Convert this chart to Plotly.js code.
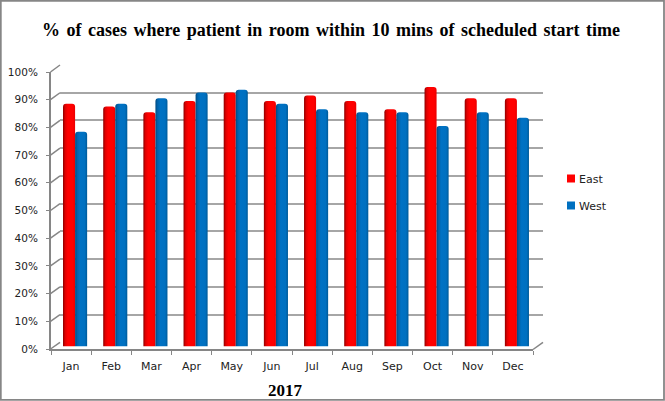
<!DOCTYPE html>
<html><head><meta charset="utf-8">
<script src="https://cdn.plot.ly/plotly-3.0.1.min.js"></script>
<style>html,body{margin:0;padding:0;background:#fff}#c{width:665px;height:401px}</style></head>
<body><div id="c"></div>
<script>
const months = ["Jan","Feb","Mar","Apr","May","Jun","Jul","Aug","Sep","Oct","Nov","Dec"];
const east = [87,86,84,88,91,88,90,88,85,93,89,89];
const west = [77,87,89,91,92,87,85,84,84,79,84,82];
const yTicks = [0,10,20,30,40,50,60,70,80,90,100];
const W=665,H=401;
const gray="#868686";
const px=(a,b)=>[a/W,b/W], py=(top,bot)=>[1-bot/H,1-top/H];
const xr=[-0.5,11.5], yr=[0,100];
const traces=[
 {type:"bar",name:"East",x:months,y:east,xaxis:"x3",yaxis:"y3",marker:{color:"#ff0000"},legendgroup:"a",hoverinfo:"x+y"},
 {type:"bar",name:"West",x:months,y:west,xaxis:"x3",yaxis:"y3",marker:{color:"#0070c0"},legendgroup:"b",hoverinfo:"x+y"},
 {type:"scatter",mode:"markers",x:months,y:east,xaxis:"x",yaxis:"y",marker:{opacity:0},showlegend:false,hoverinfo:"skip"},
 {type:"scatter",mode:"markers",x:months,y:east,xaxis:"x2",yaxis:"y2",marker:{opacity:0},showlegend:false,hoverinfo:"skip"}
];
const shapes=[];
const yFront=v=>349-v*2.77, yBack=v=>342.3-v*2.773;
yTicks.forEach(v=>shapes.push({type:"line",xref:"paper",yref:"paper",x0:50.5/W,x1:60/W,y0:1-yFront(v)/H,y1:1-yBack(v)/H,line:{color:gray,width:1.5},layer:"below"}));
shapes.push({type:"line",xref:"paper",yref:"paper",x0:533/W,x1:543/W,y0:1-349.5/H,y1:1-342.3/H,line:{color:gray,width:1.5},layer:"below"});
shapes.push({type:"rect",xref:"paper",yref:"paper",x0:0.8/W,x1:664/W,y0:1-0.8/H,y1:1-399.8/H,line:{color:gray,width:1.8},layer:"below"});
const layout={
 width:W,height:H,margin:{l:0,r:0,t:0,b:0},paper_bgcolor:"#fff",plot_bgcolor:"rgba(0,0,0,0)",
 barmode:"group",bargap:0.4,bargroupgap:0,barcornerradius:3,
 font:{family:"DejaVu Sans",size:11,color:"#222"},
 title:{text:"% of cases where patient in room within 10 mins of scheduled start time",font:{family:"Liberation Serif",size:18,color:"#000",weight:700},x:331/W,xanchor:"center",y:1-30/H,yanchor:"middle"},
 xaxis:{domain:px(51,533),range:xr,anchor:"y",type:"category",categoryorder:"array",categoryarray:months,tickson:"boundaries",ticks:"outside",ticklen:4,tickcolor:gray,tickwidth:1,ticklabelstandoff:6,showline:true,linecolor:gray,linewidth:2,showgrid:false,zeroline:false,fixedrange:true,
   title:{text:"2017",font:{family:"Liberation Serif",size:17,color:"#000",weight:700},standoff:12}},
 yaxis:{domain:py(72,349),range:yr,anchor:"x",tickvals:yTicks,ticktext:yTicks.map(v=>v+"%"),ticks:"outside",ticklen:3,tickcolor:gray,tickwidth:1,ticklabelstandoff:6,tickfont:{size:10.5},showline:true,linecolor:gray,linewidth:2,showgrid:false,zeroline:false,fixedrange:true},
 xaxis2:{domain:px(60,543),range:xr,anchor:"y2",type:"category",categoryorder:"array",categoryarray:months,visible:false,fixedrange:true},
 yaxis2:{domain:py(65,342.3),range:yr,anchor:"x2",tickvals:yTicks,showticklabels:false,ticks:"",showline:false,showgrid:true,gridcolor:"#a6a6a6",gridwidth:2,zeroline:false,fixedrange:true},
 xaxis3:{domain:px(55,537),range:xr,anchor:"y3",type:"category",categoryorder:"array",categoryarray:months,visible:false,fixedrange:true},
 yaxis3:{domain:py(67.5,346.5),range:yr,anchor:"x3",visible:false,fixedrange:true},
 showlegend:true,
 legend:{x:551/W,y:1-164/H,xanchor:"left",yanchor:"top",tracegroupgap:8,bgcolor:"rgba(0,0,0,0)",font:{family:"DejaVu Sans",size:11,color:"#222"},traceorder:"grouped",itemclick:false,itemdoubleclick:false},
 shapes:shapes
};
Plotly.newPlot("c",traces,layout,{displayModeBar:false,staticPlot:true}).then(gd=>{
  const svg=gd.querySelector("svg.main-svg");
  const defs=svg.querySelector("defs");
  const NS="http://www.w3.org/2000/svg";
  const grad=(id,stops)=>{const g=document.createElementNS(NS,"linearGradient");g.id=id;g.setAttribute("x1","0");g.setAttribute("x2","1");g.setAttribute("y1","0");g.setAttribute("y2","0");
    stops.forEach(s=>{const e=document.createElementNS(NS,"stop");e.setAttribute("offset",s[0]);e.setAttribute("stop-color",s[1]);g.appendChild(e);});defs.appendChild(g);};
  grad("gEast",[[0,"#8c0000"],[0.18,"#e00000"],[0.4,"#ff0000"],[0.8,"#ff0000"],[1,"#e80000"]]);
  grad("gWest",[[0,"#004a80"],[0.18,"#0064ac"],[0.4,"#0072c4"],[0.8,"#0070c0"],[1,"#005a98"]]);
  gd.querySelectorAll(".barlayer .trace").forEach((t,i)=>{
    t.querySelectorAll(".point path").forEach(p=>{p.style.fill="url(#"+(i?"gWest":"gEast")+")";});
  });
  gd.querySelectorAll(".legend .legendpoints path").forEach(p=>{p.setAttribute("d","M4,4H-4V-4H4Z");});
  gd.querySelectorAll(".legend text.legendtext").forEach(t=>{t.setAttribute("x",parseFloat(t.getAttribute("x"))-12);});
  const tt=gd.querySelector(".gtitle"); if(tt) tt.style.wordSpacing="2px";
  const xt=gd.querySelector(".xtitle"); if(xt){xt.setAttribute("x",285);}
});
</script></body></html>
